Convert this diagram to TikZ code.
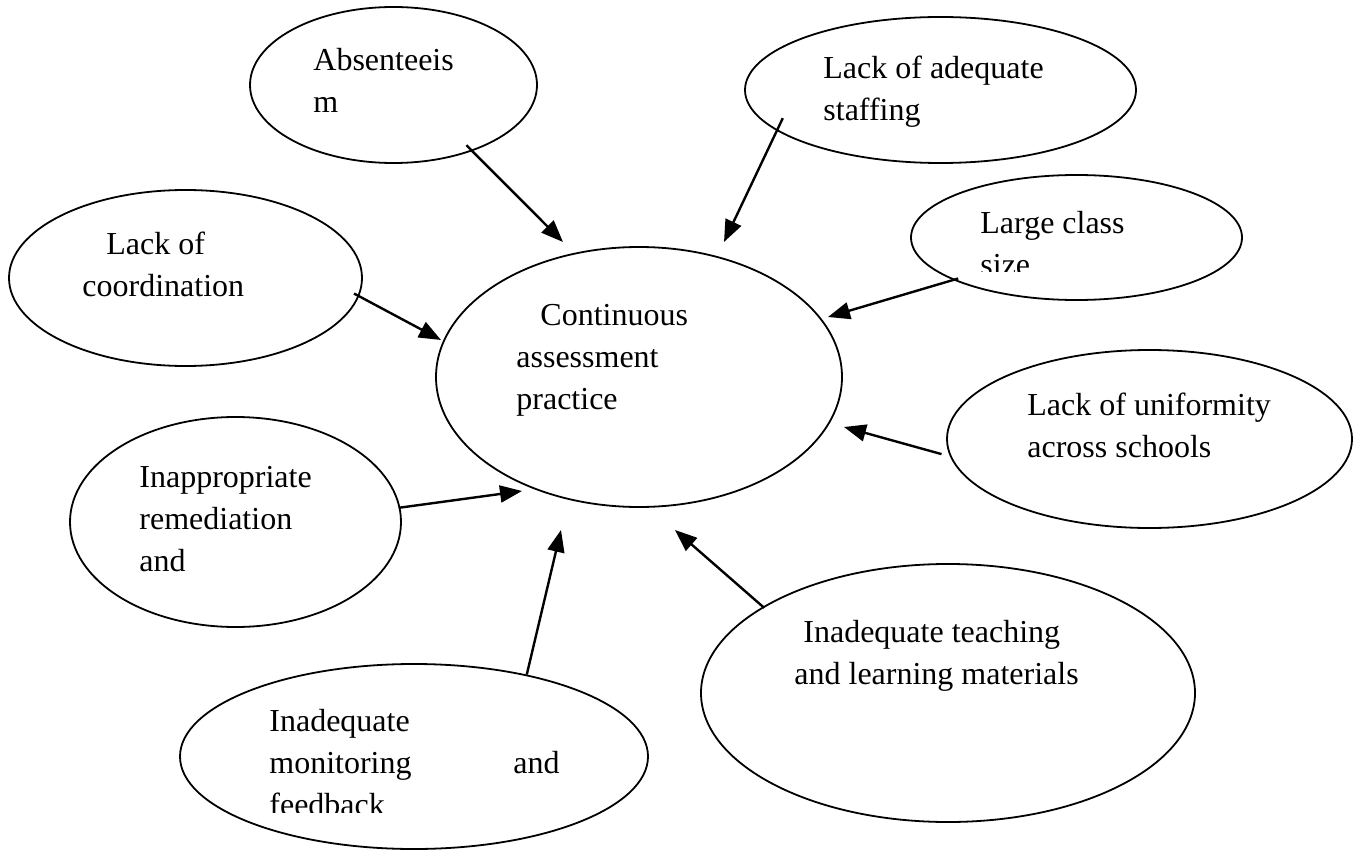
\documentclass[tikz,border=0pt]{standalone}
\usepackage{fontspec}
\setmainfont{Liberation Serif}
\usetikzlibrary{arrows.meta,shapes.geometric}

\begin{document}
\begin{tikzpicture}[x=0.5pt,y=-0.5pt,
    bubble/.style={draw,ellipse,inner sep=0pt,line width=0.9pt},
    lbl/.style={anchor=base west,align=left,inner sep=0pt,font=\fontsize{16}{21}\selectfont},
    cause/.style={-{Triangle[length=11pt,width=8.5pt]},line width=1.2pt}]
    \useasboundingbox (0,0) rectangle (1354,850);
    % Ellipses
    \node[bubble,minimum width=143.5pt,minimum height=78pt] (absent) at (393.5,85) {};
    \node[bubble,minimum width=195.5pt,minimum height=73pt] (staff) at (940.5,90) {};
    \node[bubble,minimum width=176.5pt,minimum height=88pt] (coord) at (185.5,278) {};
    \node[bubble,minimum width=203pt,minimum height=130pt] (cap) at (639,377) {};
    \node[bubble,minimum width=165.5pt,minimum height=62.5pt] (large) at (1076.5,237.5) {};
    \node[bubble,minimum width=202.5pt,minimum height=89pt] (unif) at (1149.5,439) {};
    \node[bubble,minimum width=165.5pt,minimum height=105pt] (remed) at (235.5,522) {};
    \node[bubble,minimum width=234pt,minimum height=92.5pt] (monit) at (414,756.5) {};
    \node[bubble,minimum width=247pt,minimum height=129pt] (teach) at (948,693) {};
    % Labels (placed at the baseline of their last line)
    \node[lbl] (absent-t) at (313,113) {Absenteeis\\m};
    \node[lbl] (staff-t) at (823,121) {Lack of adequate\\staffing};
    \node[lbl] (coord-t) at (82,297) {\hspace*{12pt}Lack of\\coordination};
    \node[lbl] (cap-t) at (516,409) {\hspace*{12pt}Continuous\\assessment\\practice};
    \begin{scope}
        \clip (960,190) rectangle (1240,272);
        \node[lbl] (large-t) at (980,276) {Large class\\size};
    \end{scope}
    \node[lbl] (unif-t) at (1027,457) {Lack of uniformity\\across schools};
    \node[lbl] (remed-t) at (139,571) {Inappropriate\\remediation\\and};
    \begin{scope}
        \clip (250,690) rectangle (640,812);
        \node[lbl] (monit-t) at (269,815) {Inadequate\\\makebox[122pt][l]{monitoring}and\\feedback};
    \end{scope}
    \node[lbl] (teach-t) at (794,684) {\hspace*{4.5pt}Inadequate teaching\\and learning materials};
    % Arrow tips near the centre ellipse
    \coordinate (t1) at ([shift={(-76,-135)}]cap.center);
    \coordinate (t2) at ([shift={(85,-135)}]cap.center);
    \coordinate (t3) at ([shift={(-198,-37)}]cap.center);
    \coordinate (t4) at ([shift={(189,-60)}]cap.center);
    \coordinate (t5) at ([shift={(205,50)}]cap.center);
    \coordinate (t6) at ([shift={(-117,114)}]cap.center);
    \coordinate (t7) at ([shift={(-78,153)}]cap.center);
    \coordinate (t8) at ([shift={(36,153)}]cap.center);
    % Arrows
    \draw[cause,shorten <=-4.2pt] (absent.-40.2) -- (t1);
    \draw[cause,shorten <=-7pt] (staff.-166.4) -- (t2);
    \draw[cause,shorten <=-2.9pt] (coord.-6.75) -- (t3);
    \draw[cause,shorten <=-2.7pt] (large.-161.96) -- (t4);
    \draw[cause,shorten <=4.4pt] (unif.-175.8) -- (t5);
    \draw[cause,shorten <=-0.8pt] (remed.5.18) -- (t6);
    \draw[cause] (monit.36.45) -- (t7);
    \draw[cause,shorten <=-0.9pt] (teach.155.3) -- (t8);
\end{tikzpicture}
\end{document}
